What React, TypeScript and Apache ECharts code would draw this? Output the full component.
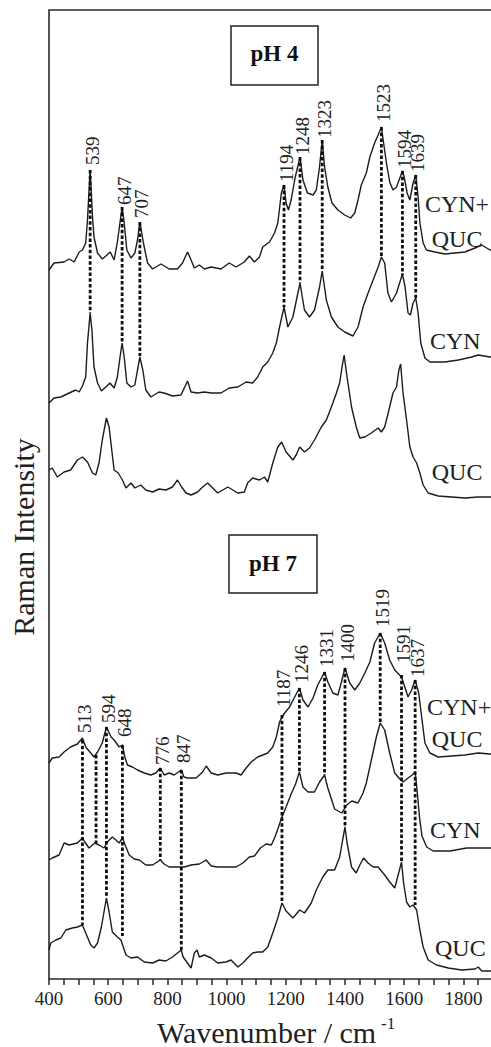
import React, { useEffect, useRef } from "react";
import * as echarts from "echarts";

const SERIF = '"Liberation Serif", "Times New Roman", "DejaVu Serif", serif';
const INK = "#1c1c1c";

// x axis
const X_MIN = 400;
const X_MAX = 1900;
const TICK_STEP = 50;
const LABEL_STEP = 200;
// y axis (arbitrary intensity units)
const Y_MIN = 0;
const Y_MAX = 969;

// Spectra: [wavenumber, relative intensity]
const PH4_MIX: [number, number][] = [
  [400,0],[417,7],[451,8],[468,11],[485,8],[502,18],[513,20],[524,27],[530,50],[539,100],[547,53],[552,33],[564,17],[580,11],[592,14],[607,18],[620,10],[631,28],[647,63],[654,47],[663,20],[677,12],[690,17],[699,30],[707,48],[719,27],[733,7],[750,1],[778,6],[806,1],[834,1],[851,7],[868,18],[880,10],[891,2],[908,5],[925,1],[948,3],[981,1],[1009,7],[1032,3],[1060,8],[1077,14],[1094,8],[1111,13],[1122,23],[1145,28],[1162,37],[1173,47],[1185,77],[1194,85],[1201,67],[1209,60],[1218,70],[1232,93],[1248,113],[1258,90],[1273,77],[1292,75],[1303,80],[1314,103],[1323,130],[1331,103],[1342,83],[1356,67],[1376,60],[1399,55],[1419,52],[1433,57],[1444,70],[1455,85],[1472,97],[1484,113],[1500,127],[1512,135],[1523,143],[1529,130],[1540,107],[1551,88],[1562,80],[1574,83],[1594,99],[1600,93],[1610,77],[1619,70],[1630,87],[1639,95],[1647,73],[1653,47],[1664,27],[1675,20],[1704,18],[1737,16],[1771,17],[1805,18],[1839,22],[1862,25],[1890,20],[1900,20]
];
const PH4_CYN: [number, number][] = [
  [400,2],[417,7],[440,8],[468,12],[490,15],[502,13],[513,19],[524,28],[530,62],[539,92],[545,75],[552,38],[564,22],[577,14],[592,18],[606,22],[620,17],[631,28],[640,48],[647,62],[654,48],[663,22],[677,18],[690,20],[699,35],[707,48],[717,35],[727,15],[744,8],[772,13],[789,12],[817,9],[846,10],[868,24],[880,13],[902,12],[925,13],[948,12],[981,12],[1009,17],[1038,18],[1066,23],[1088,22],[1105,28],[1122,38],[1139,43],[1156,52],[1168,62],[1179,78],[1194,98],[1207,78],[1224,88],[1248,122],[1263,95],[1280,88],[1297,95],[1314,118],[1323,134],[1337,105],[1354,88],[1376,78],[1399,73],[1427,69],[1444,78],[1461,98],[1478,112],[1495,125],[1512,138],[1523,148],[1534,142],[1545,112],[1557,103],[1574,112],[1594,131],[1603,118],[1613,92],[1621,90],[1630,102],[1639,107],[1647,92],[1656,62],[1670,47],[1687,43],[1737,43],[1783,45],[1828,48],[1850,50],[1890,48],[1900,48]
];
const PH4_QUC: [number, number][] = [
  [400,28],[411,30],[428,21],[451,26],[473,28],[496,38],[513,41],[530,36],[547,25],[558,23],[569,35],[580,58],[594,80],[603,71],[612,48],[620,28],[634,25],[648,18],[660,10],[677,15],[690,10],[710,13],[727,8],[750,6],[772,9],[795,8],[817,11],[834,18],[848,11],[863,5],[880,3],[902,6],[919,11],[936,15],[953,10],[970,5],[987,8],[1004,11],[1021,8],[1038,5],[1060,6],[1071,15],[1088,20],[1111,18],[1128,21],[1139,16],[1156,35],[1173,51],[1186,56],[1201,46],[1224,38],[1235,43],[1247,51],[1263,46],[1280,50],[1297,58],[1320,71],[1337,78],[1354,91],[1371,105],[1382,115],[1390,131],[1397,143],[1405,125],[1422,91],[1438,71],[1450,60],[1467,61],[1489,65],[1512,70],[1523,66],[1534,71],[1546,85],[1562,105],[1574,111],[1582,128],[1588,134],[1596,105],[1608,78],[1619,51],[1630,41],[1642,35],[1653,25],[1664,13],[1681,5],[1715,2],[1760,1],[1805,0],[1850,1],[1890,1],[1900,1]
];
const PH7_MIX: [number, number][] = [
  [400,15],[411,20],[434,21],[451,26],[473,31],[496,34],[513,40],[524,31],[541,25],[552,21],[564,26],[580,35],[594,51],[602,46],[610,41],[620,38],[637,31],[648,33],[656,21],[665,13],[682,11],[699,8],[722,5],[744,3],[761,5],[776,10],[789,3],[806,5],[823,3],[847,8],[856,1],[868,0],[897,0],[919,6],[931,12],[948,5],[970,3],[998,5],[1032,5],[1049,3],[1066,10],[1083,16],[1105,21],[1122,23],[1139,25],[1156,31],[1168,41],[1179,56],[1187,61],[1196,65],[1213,71],[1230,81],[1246,90],[1258,78],[1275,71],[1292,80],[1308,93],[1331,106],[1342,96],[1359,85],[1376,83],[1388,96],[1400,110],[1416,95],[1433,88],[1450,95],[1467,105],[1484,116],[1500,135],[1519,145],[1534,135],[1551,118],[1568,108],[1591,101],[1602,91],[1613,81],[1625,88],[1637,98],[1649,85],[1659,61],[1670,35],[1687,25],[1715,21],[1760,22],[1805,23],[1850,25],[1890,24],[1900,24]
];
const PH7_CYN: [number, number][] = [
  [400,8],[411,10],[434,13],[451,25],[468,23],[496,25],[513,30],[521,26],[535,20],[555,25],[569,23],[586,20],[597,26],[614,31],[626,28],[637,25],[648,30],[660,21],[671,13],[688,9],[705,8],[727,3],[750,3],[776,8],[789,4],[806,1],[834,1],[857,1],[880,3],[908,4],[931,8],[948,2],[970,1],[998,1],[1032,1],[1055,5],[1077,11],[1094,12],[1114,20],[1134,24],[1151,23],[1162,30],[1173,39],[1187,51],[1201,61],[1218,74],[1233,84],[1246,96],[1258,81],[1275,76],[1297,76],[1314,86],[1331,93],[1342,80],[1365,59],[1389,55],[1406,63],[1423,67],[1444,65],[1461,75],[1472,85],[1489,108],[1506,131],[1519,145],[1534,138],[1551,115],[1568,95],[1585,89],[1596,86],[1613,90],[1627,93],[1637,96],[1645,73],[1652,50],[1660,32],[1676,21],[1698,17],[1754,17],[1811,20],[1890,20],[1900,20]
];
const PH7_QUC: [number, number][] = [
  [400,21],[406,28],[423,31],[440,33],[457,41],[479,43],[496,44],[513,46],[524,38],[541,26],[552,23],[564,28],[577,44],[594,73],[603,59],[614,39],[631,34],[643,31],[660,16],[677,13],[699,14],[722,9],[750,8],[772,11],[795,10],[817,14],[847,21],[853,14],[868,8],[880,3],[891,18],[900,21],[908,14],[925,16],[948,13],[970,8],[998,9],[1015,11],[1038,4],[1055,8],[1071,13],[1088,18],[1105,19],[1122,19],[1139,24],[1156,38],[1173,53],[1187,68],[1201,60],[1224,53],[1247,61],[1263,58],[1286,68],[1303,81],[1325,94],[1342,101],[1365,101],[1382,114],[1392,131],[1400,144],[1407,128],[1422,104],[1438,98],[1450,106],[1463,113],[1478,108],[1495,104],[1512,104],[1534,96],[1551,89],[1568,83],[1584,101],[1591,109],[1598,88],[1608,69],[1619,64],[1630,66],[1642,61],[1653,41],[1664,24],[1681,11],[1709,6],[1749,3],[1794,1],[1839,2],[1850,4],[1862,0],[1890,0],[1900,0]
];

const TRACES = [PH4_MIX, PH4_CYN, PH4_QUC, PH7_MIX, PH7_CYN, PH7_QUC];
const TRACE_NAMES = ["CYN+QUC pH 4", "CYN pH 4", "QUC pH 4", "CYN+QUC pH 7", "CYN pH 7", "QUC pH 7"];
const OFFSETS = [709, 574, 481, 201, 111, 8];

// Band markers (dashed lines): wavenumber, top, bottom, label position
const PH4_BANDS = [539, 647, 707, 1194, 1248, 1323, 1523, 1594, 1639];
const PH4_BAND_LABELS = ["539", "647", "707", "1194", "1248", "1323", "1523", "1594", "1639"];
const PH4_BAND_TOP = [809, 772, 757, 794, 822, 839, 852, 808, 804];
const PH4_BAND_BOTTOM = [666, 636, 623, 672, 696, 709, 722, 704, 681];
const PH4_LABEL_Y = [814, 774, 761, 797, 824, 841, 857, 811, 807];

const PH7_BANDS = [513, 559, 594, 648, 776, 847, 1187, 1246, 1331, 1400, 1519, 1591, 1637];
const PH7_BAND_LABELS = ["513", "", "594", "648", "776", "847", "1187", "1246", "1331", "1400", "1519", "1591", "1637"];
const PH7_BAND_TOP = [239, 224, 252, 234, 211, 209, 264, 291, 307, 311, 346, 304, 299];
const PH7_BAND_BOTTOM = [54, 136, 81, 43, 119, 29, 76, 207, 204, 153, 256, 117, 74];
const PH7_LABEL_Y = [246, 0, 256, 242, 214, 216, 272, 296, 312, 317, 352, 316, 302];

// Trace names printed at the right
const TRACE_LABELS = ["CYN+", "QUC", "CYN", "QUC", "CYN+", "QUC", "CYN", "QUC"];
const TRACE_LABEL_X = [1670, 1693, 1687, 1693, 1677, 1693, 1687, 1704];
const TRACE_LABEL_Y = [775, 740, 638, 507, 272, 240, 149, 31];

const BAND_X = [...PH4_BANDS, ...PH7_BANDS];
const BAND_TEXT = [...PH4_BAND_LABELS, ...PH7_BAND_LABELS];
const BAND_TOP = [...PH4_BAND_TOP, ...PH7_BAND_TOP];
const BAND_BOTTOM = [...PH4_BAND_BOTTOM, ...PH7_BAND_BOTTOM];
const BAND_LABEL_Y = [...PH4_LABEL_Y, ...PH7_LABEL_Y];

function buildOption(): any {
  const lineSeries = TRACES.map((tr, i) => ({
    name: TRACE_NAMES[i],
    type: "line",
    data: tr.map(([x, v]) => [x, v + OFFSETS[i]]),
    showSymbol: false,
    symbol: "none",
    lineStyle: { color: INK, width: 1.4 },
    z: 3,
  }));

  const bandSeries = {
    type: "custom",
    name: "bands",
    clip: false,
    z: 4,
    encode: { x: 0, y: [1, 2] },
    data: BAND_X.map((x, i) => [x, BAND_TOP[i], BAND_BOTTOM[i], BAND_LABEL_Y[i]]),
    renderItem: (params: any, api: any) => {
      const i = params.dataIndex;
      const top = api.coord([api.value(0), api.value(1)]);
      const bot = api.coord([api.value(0), api.value(2)]);
      const lab = api.coord([api.value(0), api.value(3)]);
      const children: any[] = [
        {
          type: "line",
          shape: { x1: top[0], y1: top[1], x2: bot[0], y2: bot[1] },
          style: { stroke: "#0d0d0d", lineWidth: 2.8, lineDash: [3.5, 2.2] },
        },
      ];
      const t = BAND_TEXT[i];
      if (t) {
        children.push({
          type: "text",
          x: lab[0] + 2,
          y: lab[1],
          rotation: Math.PI / 2,
          style: {
            text: t,
            align: "left",
            verticalAlign: "middle",
            fontSize: 19,
            fontFamily: SERIF,
            fill: "#222",
          },
        });
      }
      return { type: "group", children };
    },
  };

  const nameSeries = {
    type: "custom",
    name: "trace names",
    clip: false,
    z: 5,
    encode: { x: 0, y: 1 },
    data: TRACE_LABEL_X.map((x, i) => [x, TRACE_LABEL_Y[i]]),
    renderItem: (params: any, api: any) => {
      const p = api.coord([api.value(0), api.value(1)]);
      return {
        type: "text",
        x: p[0],
        y: p[1],
        style: {
          text: TRACE_LABELS[params.dataIndex],
          align: "left",
          verticalAlign: "middle",
          fontSize: 24,
          fontFamily: SERIF,
          fill: "#222",
        },
      };
    },
  };

  return {
    animation: false,
    backgroundColor: "#ffffff",
    grid: {
      left: 49,
      top: 10,
      width: 444,
      height: 969,
      show: true,
      borderColor: "#2a2a2a",
      borderWidth: 1.6,
      backgroundColor: "transparent",
    },
    xAxis: {
      type: "value",
      min: X_MIN,
      max: X_MAX,
      interval: TICK_STEP,
      axisLine: { show: false },
      axisTick: { show: true, inside: false, length: 6, lineStyle: { color: "#2a2a2a", width: 1.5 } },
      axisLabel: {
        formatter: (v: number) => (v % LABEL_STEP === 0 && v < X_MAX ? String(v) : ""),
        fontSize: 19,
        fontFamily: SERIF,
        color: "#222",
        margin: 10,
        hideOverlap: false,
      },
      splitLine: { show: false },
    },
    yAxis: {
      type: "value",
      min: Y_MIN,
      max: Y_MAX,
      axisLine: { show: false },
      axisTick: { show: false },
      axisLabel: { show: false },
      splitLine: { show: false },
    },
    series: [...lineSeries, bandSeries, nameSeries],
    graphic: [
      { type: "rect", shape: { x: 231, y: 26, width: 87, height: 59 }, style: { fill: "#fff", stroke: "#222", lineWidth: 1.5 }, z: 10 },
      { type: "text", x: 274.5, y: 53, style: { text: "pH 4", align: "center", verticalAlign: "middle", fontSize: 23, fontWeight: "bold", fontFamily: SERIF, fill: "#111" }, z: 11 },
      { type: "rect", shape: { x: 229, y: 535, width: 88, height: 58 }, style: { fill: "#fff", stroke: "#222", lineWidth: 1.5 }, z: 10 },
      { type: "text", x: 273, y: 563, style: { text: "pH 7", align: "center", verticalAlign: "middle", fontSize: 23, fontWeight: "bold", fontFamily: SERIF, fill: "#111" }, z: 11 },
      { type: "text", x: 23, y: 537, rotation: Math.PI / 2, style: { text: "Raman Intensity", align: "center", verticalAlign: "middle", fontSize: 30, fontFamily: SERIF, fill: "#222" }, z: 11 },
      { type: "text", x: 157, y: 1032, style: { text: "Wavenumber / cm", align: "left", verticalAlign: "middle", fontSize: 30, lineHeight: 26, fontFamily: SERIF, fill: "#222" }, z: 11 },
      { type: "text", x: 381, y: 1023, style: { text: "-1", align: "left", verticalAlign: "middle", fontSize: 17, lineHeight: 16, fontFamily: SERIF, fill: "#222" }, z: 11 },
    ],
  };
}

export default function App() {
  const ref = useRef<HTMLDivElement>(null);
  useEffect(() => {
    if (!ref.current) return;
    const chart = echarts.init(ref.current, undefined, { renderer: "svg" });
    chart.setOption(buildOption());
    return () => {
      chart.dispose();
    };
  }, []);
  return (
    <div
      style={{
        position: "fixed",
        left: 0,
        top: 0,
        width: 491,
        height: 1047,
        overflow: "hidden",
        background: "#fff",
      }}
    >
      <div ref={ref} style={{ width: 500, height: 1047 }} />
    </div>
  );
}
